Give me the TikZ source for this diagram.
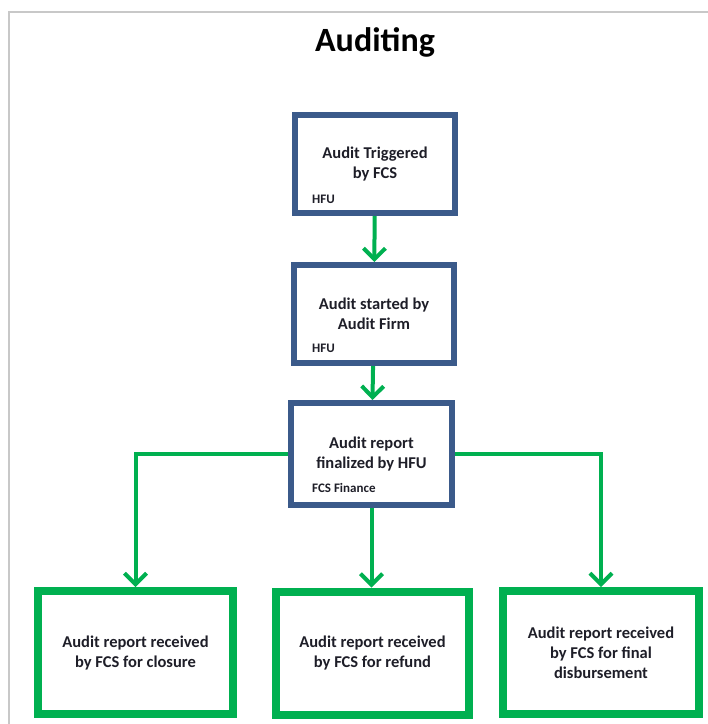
\documentclass[tikz,border=0pt]{standalone}
\usepackage{fontspec}
\setmainfont{Carlito}
\usetikzlibrary{arrows.meta,positioning}

\definecolor{boxblue}{RGB}{59,90,138}
\definecolor{flowgreen}{RGB}{0,176,80}
\definecolor{framegray}{RGB}{200,200,200}
\definecolor{inkdark}{RGB}{30,30,40}

\tikzset{
	stagebox/.style={draw=boxblue, line width=6pt, fill=white, minimum width=160pt, minimum height=98pt, align=center, text=inkdark, font=\bfseries\fontsize{16.5}{20}\selectfont, inner sep=0pt},
	endbox/.style={draw=flowgreen, line width=8pt, fill=white, minimum height=123pt, align=center, text=inkdark, font=\bfseries\fontsize{16.5}{20}\selectfont, inner sep=0pt},
	owner/.style={font=\bfseries\fontsize{13}{15}\selectfont, text=inkdark, inner sep=0pt, anchor=base west},
	flow/.style={draw=flowgreen, line width=4pt, -{Straight Barb[length=11pt,width=22pt]}}
}

\begin{document}
\begin{tikzpicture}[x=1pt,y=-1pt]
	\useasboundingbox (0,0) rectangle (708,724);
	%frame
		\draw[framegray, line width=1.2pt] (9,724) -- (9,12) -- (708,12);
	%title
		\node[font=\bfseries\fontsize{34}{38}\selectfont] (title) at (375,42) {Auditing};
	%stages
		\node[stagebox] (trig) at (375,164) {Audit Triggered\\by FCS};
		\node[stagebox] (start) at (374,314) {Audit started by\\Audit Firm};
		\node[stagebox, minimum width=161pt, minimum height=102pt] (final) at (371.5,454) {Audit report\\finalized by HFU};
	%who is in charge
		\node[owner] (trigwho) at (312,203) {HFU};
		\node[owner] (startwho) at (312,352) {HFU};
		\node[owner] (finalwho) at (312,492) {FCS Finance};
	%outcomes
		\node[endbox, minimum width=195pt] (closure) at (135.5,652.5) {Audit report received\\by FCS for closure};
		\node[endbox, minimum width=193pt] (refund) at (372.5,653) {Audit report received\\by FCS for refund};
		\node[endbox, minimum width=196pt] (disb) at (601,652.5) {Audit report received\\by FCS for final\\disbursement};
	%connectors
		\draw[flow] (trig) -- (start);
		\draw[flow] (start) -- (final);
		\draw[flow] (final.west) -| (closure.north);
		\draw[flow] (final.south) -- (final.south |- refund.north);
		\draw[flow] (final.east) -| (disb.north);
\end{tikzpicture}
\end{document}
